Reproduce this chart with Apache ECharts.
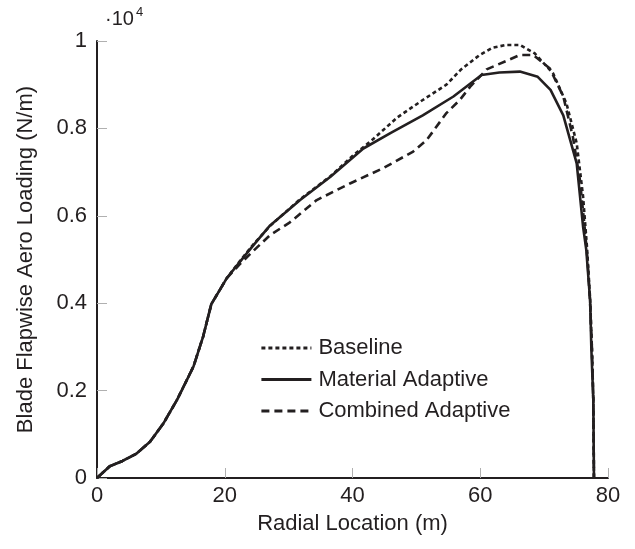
<!DOCTYPE html>
<html>
<head>
<meta charset="utf-8">
<script src="https://cdn.jsdelivr.net/npm/echarts@6/dist/echarts.min.js"></script>
<style>
  html, body { margin: 0; padding: 0; background: #fff; }
  #chart { width: 635px; height: 549px; }
</style>
</head>
<body>
<div id="chart"></div>
<script>
// radial location (m) and loading (x10^4 N/m)
const baselineX = [0, 2, 4, 6.2, 8.3, 10.4, 12.5, 15.1, 16.6, 17.9, 20.3, 22.4, 24.5, 27.1, 31.8, 36.5, 40, 43.2, 47, 51, 54.7, 57, 59.9, 62, 64.1, 66.2, 68.5, 71.4, 73.5, 75.1, 76.1, 76.7, 77.2, 77.5, 77.7, 77.8]
const baselineY = [0, 0.027, 0.039, 0.056, 0.083, 0.125, 0.178, 0.255, 0.323, 0.398, 0.457, 0.497, 0.535, 0.577, 0.638, 0.69, 0.737, 0.775, 0.825, 0.865, 0.9, 0.935, 0.968, 0.985, 0.991, 0.991, 0.972, 0.926, 0.857, 0.766, 0.644, 0.53, 0.41, 0.29, 0.18, 0]

const materialX = [0, 2, 4, 6.2, 8.3, 10.4, 12.5, 15.1, 16.6, 17.9, 20.3, 22.4, 24.5, 27.1, 31.8, 36.5, 41.7, 46, 51, 55.8, 60.2, 63, 66.2, 69, 71, 73, 75.1, 76.1, 76.6, 77.2, 77.4, 77.7, 77.8]
const materialY = [0, 0.027, 0.039, 0.056, 0.083, 0.125, 0.178, 0.255, 0.323, 0.398, 0.457, 0.495, 0.533, 0.578, 0.636, 0.689, 0.754, 0.79, 0.83, 0.873, 0.922, 0.928, 0.93, 0.918, 0.888, 0.83, 0.72, 0.575, 0.522, 0.407, 0.293, 0.178, 0]

const combinedX = [0, 2, 4, 6.2, 8.3, 10.4, 12.5, 15.1, 16.6, 17.9, 20.3, 22.4, 24.5, 27.1, 30.2, 34.4, 39.6, 44.8, 49.5, 51.6, 54.7, 56.8, 58.4, 61, 62.6, 66.2, 68.3, 70.9, 73, 74.5, 75.6, 76.3, 76.8, 77.2, 77.5, 77.7, 77.8]
const combinedY = [0, 0.027, 0.039, 0.056, 0.083, 0.125, 0.178, 0.255, 0.323, 0.398, 0.457, 0.49, 0.52, 0.556, 0.585, 0.636, 0.674, 0.709, 0.747, 0.773, 0.835, 0.865, 0.895, 0.935, 0.945, 0.968, 0.968, 0.937, 0.873, 0.781, 0.682, 0.58, 0.5, 0.4, 0.29, 0.18, 0]

const seriesNames = ['Baseline', 'Material Adaptive', 'Combined Adaptive']

const zip = (xs, ys) => xs.map((x, i) => [x, ys[i]])

const ink = '#231f20'
const font = 'Liberation Sans, Arial, Helvetica, sans-serif'
const fs = 22

const chart = echarts.init(document.getElementById('chart'))

const option = {
  animation: false,
  backgroundColor: '#fff',
  textStyle: { fontFamily: font, color: ink },
  grid: { left: 97, right: 27, top: 41, bottom: 71 },
  legend: {
    orient: 'vertical',
    left: 255,
    top: 332,
    itemWidth: 50,
    itemHeight: 22,
    itemGap: 9.5,
    data: seriesNames,
    // hide the marker dot, keep the line sample
    itemStyle: { opacity: 0 },
    lineStyle: { width: 2.8 },
    textStyle: { fontSize: fs, color: ink, fontFamily: font, padding: [0, 0, 0, 2] }
  },
  xAxis: {
    type: 'value',
    min: 0,
    max: 80,
    interval: 20,
    name: 'Radial Location (m)',
    nameLocation: 'middle',
    nameGap: 35,
    nameTextStyle: { fontSize: fs, color: ink },
    axisLine: { lineStyle: { color: ink, width: 2 } },
    axisTick: { inside: true, length: 10, lineStyle: { color: '#b0b0b0', width: 1 } },
    axisLabel: { fontSize: fs, color: ink, margin: 7 },
    splitLine: { show: false }
  },
  yAxis: {
    type: 'value',
    min: 0,
    max: 1,
    interval: 0.2,
    name: 'Blade Flapwise Aero Loading (N/m)',
    nameLocation: 'middle',
    nameRotate: 90,
    nameGap: 60,
    nameTextStyle: { fontSize: fs, color: ink },
    axisLine: { show: true, lineStyle: { color: ink, width: 2 } },
    axisTick: { show: true, inside: true, length: 10, lineStyle: { color: '#b0b0b0', width: 1 } },
    axisLabel: { fontSize: fs, color: ink, margin: 10 },
    splitLine: { show: false }
  },
  graphic: [
    { type: 'text', left: 105, top: 9, style: { text: '·10', fontSize: 20, fill: ink, fontFamily: font } },
    { type: 'text', left: 136, top: 6, style: { text: '4', fontSize: 13, fill: ink, fontFamily: font } }
  ],
  series: [
    {
      name: seriesNames[0],
      type: 'line',
      showSymbol: false,
      symbol: 'none',
      data: zip(baselineX, baselineY),
      itemStyle: { color: ink },
      lineStyle: { color: ink, width: 2.6, type: [4, 3] }
    },
    {
      name: seriesNames[1],
      type: 'line',
      showSymbol: false,
      symbol: 'none',
      data: zip(materialX, materialY),
      itemStyle: { color: ink },
      lineStyle: { color: ink, width: 2.6, type: 'solid' }
    },
    {
      name: seriesNames[2],
      type: 'line',
      showSymbol: false,
      symbol: 'none',
      data: zip(combinedX, combinedY),
      itemStyle: { color: ink },
      lineStyle: { color: ink, width: 2.6, type: [8, 5] }
    }
  ]
}

chart.setOption(option)
</script>
</body>
</html>
